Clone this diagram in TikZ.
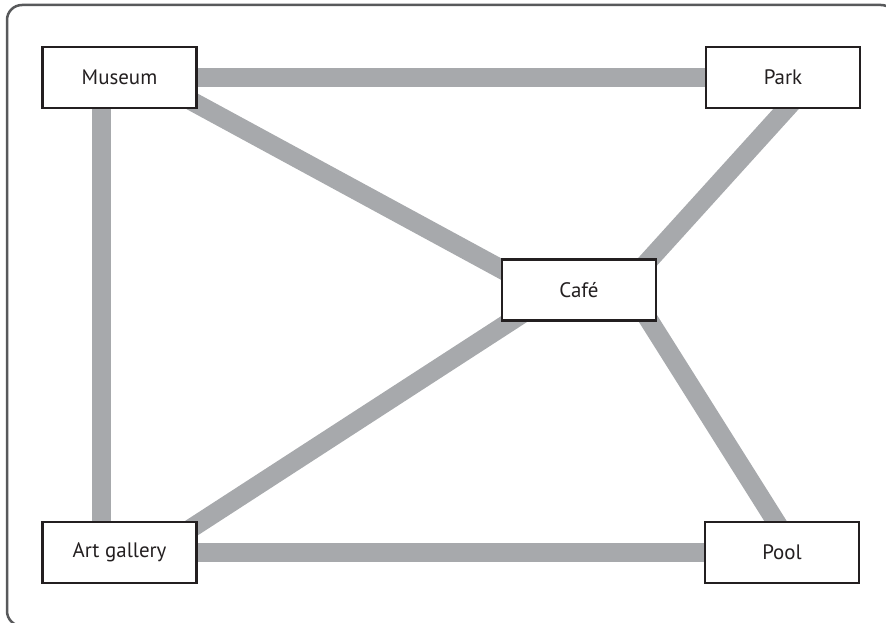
\documentclass[tikz,border=0pt]{standalone}
\usepackage{fontspec}
\setmainfont{PT Sans}
\usetikzlibrary{backgrounds}
\definecolor{edgegray}{HTML}{A7A9AC}
\definecolor{framegray}{HTML}{58595B}
\definecolor{boxline}{HTML}{231F20}
\begin{document}
\begin{tikzpicture}[x=1bp,y=-1bp,
  place/.style={draw=boxline,line width=2.3bp,fill=white,minimum width=154bp,minimum height=61bp,inner sep=0pt,font=\fontsize{21}{25}\selectfont,text=boxline},
  road/.style={draw=edgegray,line width=19bp}]
\useasboundingbox (0,0) rectangle (886,623);
\node[place] (museum) at (119.5,77.5) {Museum};
\node[place] (park) at (783,77.5) {Park};
\node[place] (cafe) at (579,290) {Café};
\node[place] (art) at (119.5,552.5) {Art gallery};
\node[place] (pool) at (782,552.5) {Pool};
\coordinate (mcA) at (150,78.5);
\coordinate (mcB) at (560,301);
\coordinate (pcA) at (815,77);
\coordinate (pcB) at (622,290);
\coordinate (cpA) at (630,290);
\coordinate (cpB) at (795,552);
\coordinate (acA) at (150,555);
\coordinate (acB) at (579,277);
\begin{scope}[on background layer]
\draw[framegray,line width=2.5bp,rounded corners=15bp] (7,5) rectangle (896,626);
\draw[road] (museum.center) -- (park.center);
\draw[road] ([xshift=-18bp]museum.center) -- ([xshift=-18bp]art.center);
\draw[road] (art.center) -- (pool.center);
\draw[road] (mcA) -- (mcB);
\draw[road] (pcA) -- (pcB);
\draw[road] (cpA) -- (cpB);
\draw[road] (acA) -- (acB);
\end{scope}
\end{tikzpicture}
\end{document}
